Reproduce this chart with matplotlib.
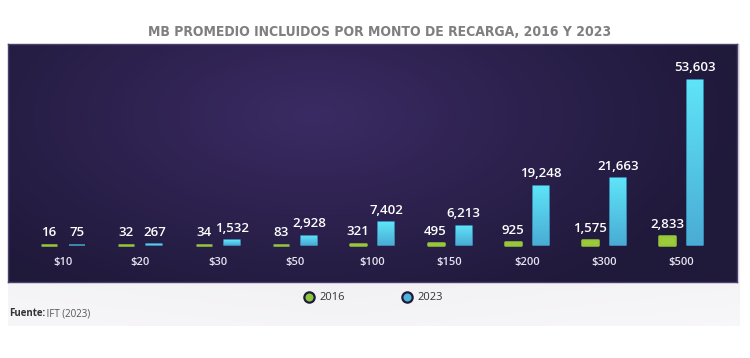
import numpy as np
import matplotlib
matplotlib.use("Agg")
import matplotlib.pyplot as plt

categories = ["$10", "$20", "$30", "$50", "$100", "$150", "$200", "$300", "$500"]
mb_2016 = [16, 32, 34, 83, 321, 495, 925, 1575, 2833]
mb_2023 = [75, 267, 1532, 2928, 7402, 6213, 19248, 21663, 53603]
series_names = ["2016", "2023"]
title = "MB PROMEDIO INCLUIDOS POR MONTO DE RECARGA, 2016 Y 2023"
source_bold = "Fuente:"
source_rest = " IFT (2023)"

W, H = 750, 358
fig = plt.figure(figsize=(W / 100, H / 100), dpi=100)
fig.patch.set_facecolor("white")

def px_axes(x0, y0, x1, y1, **kw):
    return fig.add_axes([x0 / W, 1 - y1 / H, (x1 - x0) / W, (y1 - y0) / H], **kw)

# light grey band below the panel
ag = px_axes(8, 44, 740, 326)
gx = np.linspace(0, 1, 300)
gy = np.linspace(0, 1, 100)
GX, GY = np.meshgrid(gx, gy)
grey = 0.89 + 0.07 * GY + 0.02 * np.abs(GX - 0.45)
ag.imshow(np.dstack([grey, grey - 0.005, grey + 0.005]).clip(0, 1), aspect="auto",
          extent=[0, 1, 0, 1], origin="upper")
ag.axis("off")

# dark purple panel with radial glow
ap = px_axes(8, 44, 737, 282)
nx, ny = 400, 140
X, Y = np.meshgrid(np.linspace(0, 1, nx), np.linspace(0, 1, ny))
d = np.sqrt(((X - 0.42) / 0.6) ** 2 + ((Y - 0.3) / 0.9) ** 2)
t = np.clip(1 - d, 0, 1) ** 1.1
edge = np.array([0x1f, 0x19, 0x3a]) / 255
center = np.array([0x3b, 0x2b, 0x64]) / 255
img = edge[None, None, :] * (1 - t[..., None]) + center[None, None, :] * t[..., None]
ap.imshow(img, aspect="auto", extent=[0, 1, 0, 1], origin="upper")
ap.set_xticks([]); ap.set_yticks([])
for s in ap.spines.values():
    s.set_color("#4a3f6e"); s.set_linewidth(1)

# bar axes on top
ax = px_axes(8, 44, 737, 282)
ax.set_facecolor("none")
step = 77.3
ax.set_xlim(-55 / step, (737 - 63) / step)
vmax = max(mb_2023)
scale = vmax / 165.0
ax.set_ylim(-(282 - 245) * scale, (245 - 44) * scale)
ax.axis("off")

x = np.arange(len(categories))
off = 14 / step
bw = 16 / step
ax.bar(x - off, mb_2016, width=bw, color="#9ccc3c", edgecolor="#98c83a", linewidth=1.8,
       joinstyle="round", zorder=3)
bars23 = ax.bar(x + off, mb_2023, width=bw, color="#55bfe0", edgecolor="#3f9cc6", linewidth=1.2,
                joinstyle="round", zorder=3)

# gradient fill on 2023 bars
grad = np.linspace(0, 1, 100)[:, None]
top_c = np.array([0x5e, 0xe4, 0xf8]) / 255
bot_c = np.array([0x4a, 0xac, 0xd4]) / 255
gimg = top_c[None, None, :] * (1 - grad[..., None]) + bot_c[None, None, :] * grad[..., None]
for b in bars23:
    bx, by, bwid, bh = b.get_x(), b.get_y(), b.get_width(), b.get_height()
    im = ax.imshow(gimg, aspect="auto", extent=[bx, bx + bwid, by, by + bh],
                   origin="upper", zorder=4)
    im.set_clip_path(b)

fam = ["Open Sans", "DejaVu Sans"]
for xi, v in zip(x, mb_2016):
    ax.annotate(f"{v:,}", (xi - off, v), xytext=(0, 4), textcoords="offset points",
                ha="center", va="bottom", color="white", fontsize=9.5, fontweight="semibold",
                family=fam, zorder=5)
for xi, v in zip(x, mb_2023):
    ax.annotate(f"{v:,}", (xi + off, v), xytext=(0, 4), textcoords="offset points",
                ha="center", va="bottom", color="white", fontsize=9.5, fontweight="semibold",
                family=fam, zorder=5)
for xi, c in zip(x, categories):
    ax.text(xi, -(262 - 245) * scale, c, ha="center", va="center", color="#e6e2f0",
            fontsize=8, fontweight="semibold", family=fam, zorder=5)

# title
fig.text(380 / W, 1 - 32 / H, title, ha="center", va="center", color="#7f7f7f",
         fontsize=10, fontweight="bold", fontstretch="condensed",
         family=["DejaVu Sans"])

# legend
al = px_axes(0, 0, W, H)
al.set_xlim(0, W); al.set_ylim(H, 0); al.axis("off")
al.scatter([309], [297], s=55, color="#8cc63f", edgecolors="#1f1a3a", linewidths=1.6, zorder=6)
al.scatter([407], [297], s=55, color="#4fb3dc", edgecolors="#1f1a3a", linewidths=1.6, zorder=6)
al.text(319, 297, series_names[0], va="center", ha="left", fontsize=8, color="#333333", family=fam)
al.text(417, 297, series_names[1], va="center", ha="left", fontsize=8, color="#333333", family=fam)
al.text(9, 314, source_bold, va="center", ha="left", fontsize=7, color="#333333",
        fontweight="bold", family=fam)
al.text(44, 314, source_rest, va="center", ha="left", fontsize=7, color="#555555", family=fam)

fig.savefig("out.png", dpi=100, facecolor="white")
